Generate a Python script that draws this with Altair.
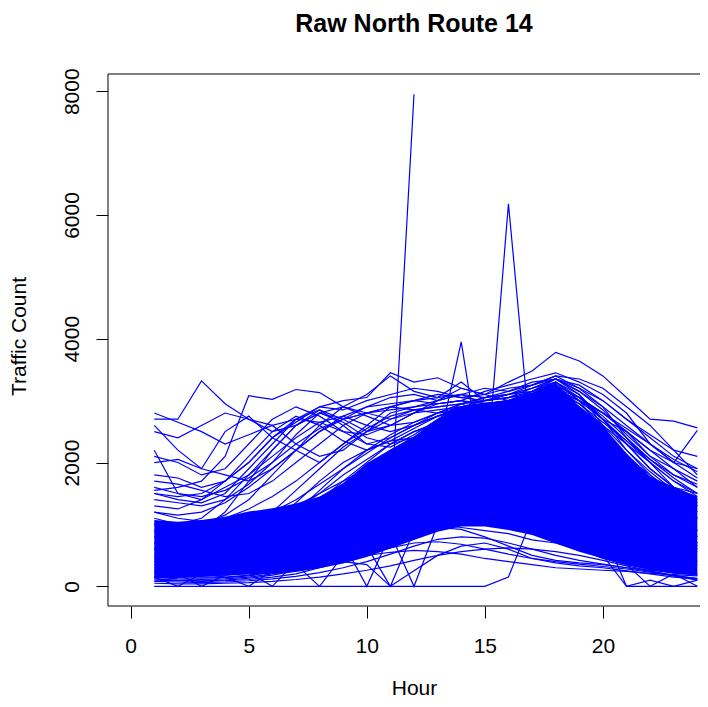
import altair as alt
import pandas as pd

hours = list(range(1, 25))

# dense core of the many daily curves (lower / upper edge per hour)
band_low = [125, 140, 150, 170, 190, 205, 230, 290, 370, 475, 610, 750,
            880, 965, 965, 910, 830, 690, 560, 450, 340, 260, 205, 180]
band_high = [1070, 1045, 1070, 1125, 1207, 1260, 1340, 1450, 1670, 1990, 2210, 2425,
             2700, 2910, 2970, 2990, 3130, 3290, 2910, 2590, 2150, 1775, 1610, 1450]

# individual days (Traffic Count for hours 1..24)
series = {
    "d01": [2800, 2650, 2500, 2300, 2450, 2600, 2700, 2900, 2850, 3000, 3100, 3200,
            3150, 3050, 3100, 3200, 3250, 3400, 3350, 3200, 2900, 2600, 2200, 1800],
    "d02": [2700, 2700, 3320, 2950, 2700, 2600, 2300, 2100, 2200, 2500, 2800, 2900,
            3000, 3100, 2950, 3000, 3150, 3300, 3000, 2700, 2500, 2100, 1900, 1600],
    "d03": [1550, 1600, 1700, 2100, 3080, 3020, 3180, 3130, 2900, 2800, 2700, 2850,
            2900, 2950, 2800, 2900, 3000, 3100, 2900, 2600, 2300, 2000, 1700, 1500],
    "d04": [2200, 1500, 1400, 1600, 1800, 2200, 2600, 2850, 2700, 2500, 2600, 2800,
            3000, 3200, 3100, 3000, 3100, 3300, 3000, 2500, 2100, 1800, 1500, 1200],
    "d05": [1500, 1450, 1500, 1700, 2000, 2400, 2650, 2900, 3000, 3050, 3450, 3300,
            3370, 3200, 3100, 3300, 3480, 3780, 3640, 3400, 3050, 2700, 2670, 2560],
    "d06": [2600, 2200, 1900, 2500, 2750, 2400, 2200, 2000, 2300, 2600, 2900, 3000,
            2950, 3000, 3150, 3250, 3350, 3450, 3300, 3100, 2800, 2300, 2000, 2520],
    "d07": [700, 750, 800, 900, 1000, 1150, 1300, 1500, 1700, 1900, 1100, 7950],
    "d08": [600, 550, 600, 700, 800, 1000, 1200, 1400, 1700, 2000, 2300, 2500,
            2600, 2400, 1500, 6180, 2100, 2400, 2200, 1800, 1300, 1000, 800, 600],
    "d09": [400, 380, 420, 500, 650, 850, 1100, 1350, 1600, 1850, 2050, 2150,
            2215, 3950, 1570, 2600, 2800, 2900, 2600, 2200, 1700, 1300, 1000, 700],
    "d10": [1000, 950, 1000, 1150, 1400, 1800, 2200, 2600, 2900, 3100, 3400, 3150,
            3050, 3300, 3000, 3100, 3250, 3350, 3150, 2900, 2400, 2000, 1600, 1300],
    "d11": [150, 120, 110, 120, 150, 200, 260, 330, 420, 540, 700, 850,
            950, 920, 800, 650, 500, 420, 380, 350, 300, 260, 220, 180],
    "d12": [200, 170, 150, 150, 180, 230, 300, 380, 450, 500, 550, 580,
            560, 520, 450, 400, 350, 300, 280, 260, 240, 210, 190, 170],
    "d13": [100, 90, 80, 90, 110, 150, 200, 300, 400, 350, 0, 250,
            500, 650, 700, 600, 450, 380, 330, 300, 250, 200, 150, 120],
    "d14": [600, 500, 450, 480, 550, 700, 900, 1100, 1300, 1500, 1700, 1900,
            2100, 2300, 2450, 2550, 2650, 2750, 2500, 2100, 1600, 1200, 900, 700],
    "d15": [400, 350, 320, 350, 420, 550, 700, 900, 1100, 1300, 1500, 1700,
            1850, 2000, 2100, 2200, 2300, 2350, 2150, 1800, 1400, 1000, 750, 550],
    "d16": [800, 700, 650, 700, 800, 1000, 1250, 1500, 1800, 2050, 2300, 2500,
            2650, 2750, 2800, 2850, 2950, 3000, 2750, 2350, 1850, 1450, 1150, 900],
    "d17": [250, 220, 200, 220, 280, 380, 500, 650, 800, 950, 1100, 1250,
            1400, 1550, 1650, 1700, 1750, 1800, 1650, 1400, 1100, 800, 600, 400],
    "d18": [1000, 900, 850, 900, 1000, 1200, 1400, 1650, 1900, 2150, 2400, 2600,
            2750, 2850, 2900, 2950, 3050, 3150, 2900, 2500, 2000, 1600, 1300, 1100],
    "d19": [500, 450, 420, 450, 550, 750, 1000, 1300, 1600, 1900, 2200, 2400,
            2550, 2650, 2700, 2700, 2600, 2450, 2150, 1750, 1350, 1000, 800, 600],
    "d20": [700, 650, 600, 650, 800, 1050, 1350, 1700, 2000, 2200, 2350, 2400,
            2450, 2500, 2500, 2450, 2400, 2350, 2100, 1800, 1500, 1200, 1000, 800],
    "d21": [350, 300, 280, 300, 350, 450, 600, 800, 1050, 1350, 1650, 1950,
            2200, 2400, 2550, 2700, 2850, 2950, 2800, 2450, 1950, 1400, 1000, 650],
    "d22": [1200, 1100, 1050, 1100, 1250, 1450, 1700, 2000, 2300, 2550, 2750, 2850,
            2900, 2950, 3000, 3050, 3100, 3200, 3000, 2700, 2300, 1900, 1600, 1400],
    "d23": [150, 140, 130, 140, 170, 230, 320, 450, 600, 800, 1000, 1200,
            1350, 1450, 1500, 1500, 1450, 1350, 1150, 900, 650, 450, 300, 200],
    "d24": [500, 450, 400, 420, 480, 600, 750, 950, 1150, 1400, 1650, 1900,
            2150, 2400, 2650, 2900, 3150, 3350, 3100, 2600, 2000, 1500, 1100, 800],
    "d25": [900, 850, 900, 1200, 1700, 2200, 2600, 2800, 2650, 2400, 2300, 2400,
            2600, 2800, 2900, 2850, 2800, 2700, 2400, 2000, 1600, 1300, 1100, 900],
    "d26": [1500, 1400, 1350, 1500, 1900, 2300, 2700, 2850, 2600, 2300, 2250, 2450,
            2700, 2950, 3050, 3100, 3150, 3250, 3050, 2700, 2300, 1900, 1600, 1500],
    "d27": [1100, 1000, 1100, 1400, 1800, 2100, 2400, 2650, 2750, 2600, 2500, 2600,
            2750, 2900, 3000, 3050, 3150, 3300, 3100, 2700, 2200, 1800, 1500, 1300],
    "d28": [600, 550, 500, 550, 700, 900, 1200, 1550, 1900, 2200, 2450, 2650,
            2800, 2900, 2950, 3000, 3100, 3250, 3050, 2800, 2500, 2200, 1900, 1700],
    "d29": [2000, 2050, 1900, 1800, 1700, 1900, 2200, 2500, 2700, 2800, 2900, 3000,
            3100, 3050, 3000, 3100, 3200, 3350, 3200, 3000, 2700, 2400, 2100, 1900],
    "d30": [300, 250, 230, 250, 300, 400, 550, 700, 850, 1000, 1100, 1150,
            1150, 1100, 1050, 1000, 950, 900, 800, 700, 600, 500, 400, 350],
    "d31": [1800, 1750, 1600, 1700, 2000, 2400, 2700, 2650, 2500, 2450, 2600, 2800,
            2950, 3000, 2900, 2950, 3050, 3150, 3000, 2800, 2500, 2200, 2000, 1900],
    "d32": [450, 400, 380, 400, 450, 550, 700, 850, 1000, 1200, 1450, 1700,
            1950, 2150, 2300, 2400, 2500, 2550, 2450, 2300, 2000, 1700, 1400, 1100],
    "d33": [0, 0, 0, 0, 0, 0, 0, 0, 0, 0, 0, 0,
            0, 0, 0, 150, 1100, 1500, 1300, 900, 0, 0, 0, 0],
    "d34": [150, 0, 200, 150, 0, 250, 350, 0, 500, 650, 0, 900,
            1100, 1200, 1100, 1000, 900, 800, 650, 500, 0, 100, 0, 100],
    "d35": [250, 200, 0, 180, 220, 0, 400, 500, 700, 0, 850, 0,
            1000, 950, 900, 850, 750, 700, 600, 450, 350, 0, 200, 0],
    "d36": [2100, 2000, 1800, 1900, 2300, 2700, 2900, 2750, 2500, 2300, 2400, 2600,
            2800, 2950, 3000, 3050, 3200, 3350, 3150, 2850, 2450, 2100, 1800, 1600],
    "d37": [1300, 1250, 1400, 1700, 2100, 2500, 2750, 2600, 2350, 2200, 2350, 2550,
            2750, 2850, 2900, 3000, 3100, 3200, 2950, 2600, 2200, 1850, 1550, 1350],
    "d38": [1600, 1500, 1450, 1550, 1750, 2000, 2300, 2550, 2700, 2800, 2850, 2900,
            2950, 3000, 2950, 3000, 3100, 3150, 2950, 2650, 2350, 2050, 1800, 1650],
    "d39": [1200, 1150, 1200, 1350, 1600, 1900, 2200, 2500, 2750, 2900, 2950, 3000,
            3050, 3100, 3050, 3100, 3200, 3300, 3050, 2750, 2400, 2050, 1750, 1500],
    "d40": [900, 800, 750, 800, 950, 1200, 1550, 1900, 2250, 2500, 2700, 2800,
            2850, 2900, 2950, 3000, 3100, 3200, 3000, 2700, 2350, 2000, 1700, 1450],
    "d41": [1700, 1650, 1550, 1450, 1500, 1700, 2000, 2300, 2600, 2800, 2900, 2850,
            2800, 2850, 2900, 2950, 3050, 3200, 3050, 2800, 2550, 2300, 2050, 1850],
    "d42": [2500, 2400, 2600, 2800, 2700, 2500, 2600, 2800, 2700, 2900, 3050, 3100,
            3000, 3100, 3200, 3150, 3300, 3350, 3250, 3000, 2700, 2450, 2200, 2100],
    "d43": [1400, 1350, 1300, 1400, 1650, 2000, 2450, 2800, 2900, 2750, 2600, 2650,
            2800, 2950, 3050, 3150, 3250, 3400, 3200, 2900, 2600, 2300, 2000, 1750],
    "d44": [80, 70, 60, 70, 90, 120, 160, 220, 300, 400, 520, 650,
            760, 800, 780, 700, 600, 500, 420, 360, 300, 240, 180, 120],
    "d45": [120, 100, 90, 100, 130, 180, 250, 330, 420, 520, 620, 700,
            720, 680, 600, 520, 450, 400, 360, 320, 280, 230, 170, 130],
    "d46": [50, 40, 40, 50, 60, 80, 110, 150, 200, 260, 330, 420,
            500, 560, 600, 620, 600, 560, 500, 420, 330, 250, 170, 100],
}

rows = []
for name, vals in series.items():
    for h, v in zip(hours, vals):
        rows.append({"series": name, "hour": h, "count": v})
lines_df = pd.DataFrame(rows)
band_df = pd.DataFrame({"hour": hours, "low": band_low, "high": band_high})

FONT = "Liberation Sans"
BLUE = "#0000FF"
PLOT_W = 592
PLOT_H = 532
FULL_W = 612  # x scale continues past the window edge, as in the reference

xs = alt.Scale(domain=[-0.96, 24.96], range=[0, FULL_W], nice=False, zero=False)
ys = alt.Scale(domain=[-318, 8278], nice=False, zero=False)

xaxis = alt.Axis(
    values=[0, 5, 10, 15, 20], title="Hour", grid=False, domain=False,
    ticks=True, tickSize=12, tickColor="black", tickWidth=1,
    labelFont=FONT, labelFontSize=21, labelColor="black",
    labelBaseline="alphabetic", labelPadding=34, labelFlush=False, labelOverlap=False,
    titleFont=FONT, titleFontSize=21, titleFontWeight="normal", titleColor="black",
    titleBaseline="alphabetic", titleY=88, titleX=306,
)
yaxis = alt.Axis(
    values=[0, 2000, 4000, 6000, 8000], format="d", title="Traffic Count",
    grid=False, domain=False,
    ticks=True, tickSize=12, tickColor="black", tickWidth=1,
    labelFont=FONT, labelFontSize=21, labelColor="black",
    labelAngle=270, labelAlign="center", labelBaseline="alphabetic", labelPadding=18,
    labelFlush=False, labelOverlap=False,
    titleFont=FONT, titleFontSize=21, titleFontWeight="normal", titleColor="black",
    titleAngle=270, titleAlign="center", titleBaseline="alphabetic",
    titleX=-83, titleY=262,
)

band = alt.Chart(band_df).mark_area(color=BLUE, opacity=1).encode(
    x=alt.X("hour:Q", scale=xs, axis=xaxis),
    y=alt.Y("low:Q", scale=ys, axis=yaxis),
    y2="high:Q",
)
lines = alt.Chart(lines_df).mark_line(color=BLUE, strokeWidth=1.2).encode(
    x=alt.X("hour:Q", scale=xs, axis=xaxis),
    y=alt.Y("count:Q", scale=ys, axis=yaxis),
    detail="series:N",
)

frame_df = pd.DataFrame({"k": [0]})
frame_top = alt.Chart(frame_df).mark_rule(color="black", strokeWidth=1).encode(
    x=alt.value(0), x2=alt.value(FULL_W), y=alt.value(0))
frame_bottom = alt.Chart(frame_df).mark_rule(color="black", strokeWidth=1).encode(
    x=alt.value(0), x2=alt.value(FULL_W), y=alt.value(PLOT_H))
frame_left = alt.Chart(frame_df).mark_rule(color="black", strokeWidth=1).encode(
    x=alt.value(0), y=alt.value(0), y2=alt.value(PLOT_H))

chart = alt.layer(band, lines, frame_top, frame_bottom, frame_left).properties(
    width=PLOT_W,
    height=PLOT_H,
    title=alt.TitleParams(
        "Raw North Route 14", font=FONT, fontSize=25, fontWeight="bold",
        color="black", anchor="middle", frame="group", baseline="alphabetic", offset=11,
        dx=10,
    ),
    padding={"left": 100, "top": 66, "right": 0, "bottom": 93},
    autosize=alt.AutoSizeParams(type="none"),
    background="white",
).configure_view(strokeWidth=0)

chart.save("out.html", embed_options={"renderer": "svg", "actions": False})
